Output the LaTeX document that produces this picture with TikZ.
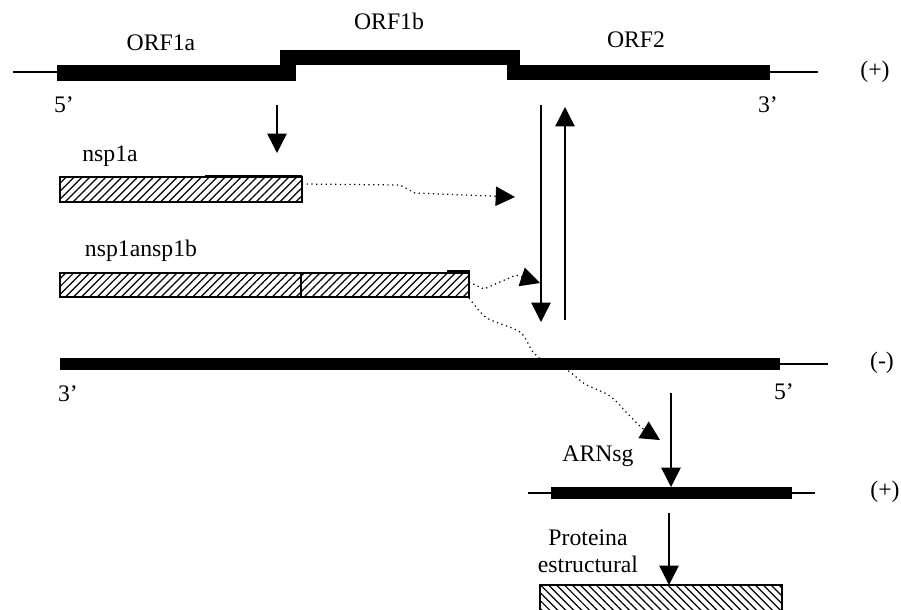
\documentclass[tikz,border=0pt]{standalone}
\usepackage{fontspec}
\setmainfont{Liberation Serif}
\usetikzlibrary{arrows.meta,patterns,patterns.meta}

\begin{document}
\begin{tikzpicture}[x=0.02cm,y=-0.02cm,>={Triangle[length=11pt,width=11pt]},line width=0.8pt,
		every node/.style={font=\fontsize{13.5}{15.5}\selectfont},
		hatchA/.style={draw,pattern={Lines[angle=45,distance=3.2pt,line width=0.7pt]}},
		hatchB/.style={draw,pattern={Lines[angle=-45,distance=3.2pt,line width=0.7pt]}},
		flecha/.style={dotted,line width=0.7pt,->}]
	\useasboundingbox (0,0) rectangle (901,609);
	
	% hebra (+) genomica
	\path[draw] (13,72) -- (57,72);
	\path[draw] (770,72) -- (818,72);
	\fill (57,65) rectangle (296,81);
	\fill (280,50) rectangle (520,65);
	\fill (507,65) rectangle (770,80);
	
	\node (t1) at (161,43) {ORF1a};
	\node (t2) at (389,21) {ORF1b};
	\node (t3) at (636,40) {ORF2};
	\node (t4) at (875,72) {(+)};
	\node (t5) at (64,105) {5'};
	\node (t6) at (768,105) {3'};
	
	% traduccion
	\coordinate (a1) at (277,105);
	\coordinate (a2) at (277,153);
	\draw[->] (a1) -- (a2);
	
	% poliproteinas
	\node (t7) at (110,156) {nsp1a};
	\path[hatchA] (60,177) rectangle (302,202);
	\path[draw] (205,176) -- (302,176);
	\node (t8) at (141,251) {nsp1ansp1b};
	\path[hatchA] (60,273) rectangle (469,297);
	\path[draw] (301,273) -- (301,297);
	\path[draw] (448,273) -- (448,271) -- (469,271) -- (469,273);
	
	% replicacion
	\coordinate (r1) at (541,105);
	\coordinate (r2) at (541,322);
	\coordinate (r3) at (565,320);
	\coordinate (r4) at (565,107);
	\draw[->] (r1) -- (r2);
	\draw[->] (r3) -- (r4);
	
	% flechas punteadas
	\coordinate (p1) at (302,184);
	\coordinate (p2) at (515,197);
	\draw[flecha] (p1) -- (400,185) -- (415,193) -- (p2);
	\coordinate (q1) at (469,282);
	\coordinate (q2) at (540,283);
	\draw[flecha] (q1) -- (484,289) -- (516,275) -- (q2);
	\coordinate (s1) at (469,298);
	\coordinate (s2) at (660,440);
	\draw[flecha] plot[smooth] coordinates {(s1) (487,318) (520,332) (533,352) (550,366) (567,370) (585,384) (610,396) (628,414) (642,428) (s2)};
	
	% hebra (-)
	\fill (60,358) rectangle (780,370);
	\path[draw] (780,364) -- (828,364);
	\node (t9) at (882,363) {(-)};
	\node (t10) at (68,394) {3'};
	\node (t11) at (784,392) {5'};
	
	% ARN subgenomico
	\coordinate (b1) at (671,393);
	\coordinate (b2) at (671,487);
	\draw[->] (b1) -- (b2);
	\node (t12) at (598,456) {ARNsg};
	\path[draw] (528,493) -- (815,493);
	\fill (551,487) rectangle (792,499);
	\node (t13) at (885,492) {(+)};
	
	% proteina
	\coordinate (c1) at (669,513);
	\coordinate (c2) at (669,585);
	\draw[->] (c1) -- (c2);
	\node[align=center] (t14) at (588,551) {Proteina\\estructural};
	\path[hatchB] (540,585) rectangle (782,615);
\end{tikzpicture}
\end{document}
